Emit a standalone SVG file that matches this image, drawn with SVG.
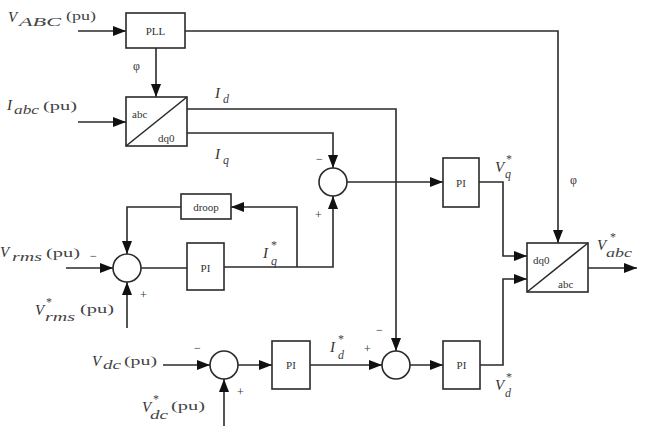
<svg xmlns="http://www.w3.org/2000/svg" width="646" height="426" viewBox="0 0 646 426">
<style>
.b{fill:#fff;stroke:#2a2a2a;stroke-width:1.6}
.c{fill:none;stroke:#2a2a2a;stroke-width:1.6}
.t{font-family:"Liberation Serif",serif;font-size:11px;fill:#333}
.m{font-family:"Liberation Serif",serif;font-style:italic;font-size:15px;fill:#333}
.s{font-family:"Liberation Serif",serif;font-style:italic;font-size:12px;fill:#444}
.u{font-family:"Liberation Serif",serif;font-size:12px;fill:#444}
.p{font-family:"Liberation Serif",serif;font-size:12px;fill:#333}
</style>
<defs>
<marker id="a" markerUnits="userSpaceOnUse" markerWidth="14" markerHeight="10" refX="13" refY="5" orient="auto">
<path d="M0,0 L13,5 L0,10 Z" fill="#111"/>
</marker>
</defs>
<rect width="646" height="426" fill="#fff"/>
<g id="connectors" class="c" marker-end="url(#a)">
<path d="M78,31H126"/>
<path d="M185,31H558V243"/>
<path d="M156,48V97"/>
<path d="M78,122H126"/>
<path d="M187,109H396V351"/>
<path d="M187,133H333V168"/>
<path d="M347,182H443"/>
<path d="M479,182H503V256H527"/>
<path d="M480,365H503V279H527"/>
<path d="M588,268H637"/>
<path d="M66,268H113"/>
<path d="M127,328V282"/>
<path d="M181,207H127V254"/>
<path d="M141,268H187" marker-end="none"/>
<path d="M224,267H333V196"/>
<path d="M297,267V207H231"/>
<path d="M163,365H210"/>
<path d="M224,426V379"/>
<path d="M238,365H272"/>
<path d="M310,365H382"/>
<path d="M410,365H443"/>
</g>
<g id="pll"><rect class="b" x="126" y="13" width="59" height="35"/><text class="t" x="155.5" y="35" text-anchor="middle">PLL</text></g>
<g id="abc2dq0"><rect class="b" x="126" y="97" width="61" height="49"/><path class="c" d="M126,146L187,97"/><text class="t" x="132" y="118">abc</text><text class="t" x="158" y="142">dq0</text></g>
<g id="sum1"><circle class="b" cx="333" cy="182" r="14"/></g>
<g id="piq"><rect class="b" x="443" y="158" width="36" height="49"/><text class="t" x="461" y="187" text-anchor="middle">PI</text></g>
<g id="dq02abc"><rect class="b" x="527" y="243" width="61" height="49"/><path class="c" d="M527,292L588,243"/><text class="t" x="533" y="264">dq0</text><text class="t" x="558" y="288">abc</text></g>
<g id="droop"><rect class="b" x="181" y="194" width="50" height="25"/><text class="t" x="206" y="211" text-anchor="middle">droop</text></g>
<g id="sum2"><circle class="b" cx="127" cy="268" r="14"/></g>
<g id="pirms"><rect class="b" x="187" y="243" width="37" height="47"/><text class="t" x="205.5" y="272" text-anchor="middle">PI</text></g>
<g id="sum3"><circle class="b" cx="224" cy="365" r="14"/></g>
<g id="pidc"><rect class="b" x="272" y="341" width="38" height="48"/><text class="t" x="291" y="369" text-anchor="middle">PI</text></g>
<g id="sum4"><circle class="b" cx="396" cy="365" r="14"/></g>
<g id="pid"><rect class="b" x="443" y="341" width="37" height="48"/><text class="t" x="461.5" y="369" text-anchor="middle">PI</text></g>
<g id="labels">
<text class="m" x="8" y="22">V</text><text class="s" x="19" y="26" textLength="42" lengthAdjust="spacingAndGlyphs" font-size="13">ABC</text><text class="u" x="66" y="20" textLength="30" lengthAdjust="spacingAndGlyphs">(pu)</text>
<text class="m" x="7" y="110">I</text><text class="s" x="14" y="114" textLength="25" lengthAdjust="spacingAndGlyphs">abc</text><text class="u" x="43" y="110" textLength="34" lengthAdjust="spacingAndGlyphs">(pu)</text>
<text class="p" x="133" y="70">φ</text>
<text class="m" x="215" y="98">I</text><text class="s" x="223" y="103">d</text>
<text class="m" x="215" y="159">I</text><text class="s" x="223" y="164">q</text>
<text class="p" x="316" y="163">−</text>
<text class="p" x="315" y="219">+</text>
<text class="m" x="263" y="258">I</text><text class="u" x="271" y="249">*</text><text class="s" x="271" y="265">q</text>
<text class="m" x="0" y="257">V</text><text class="s" x="12" y="261" textLength="30" lengthAdjust="spacingAndGlyphs">rms</text><text class="u" x="46" y="257" textLength="34" lengthAdjust="spacingAndGlyphs">(pu)</text>
<text class="p" x="90" y="260">−</text>
<text class="p" x="140" y="299">+</text>
<text class="m" x="35" y="315">V</text><text class="u" x="46" y="306">*</text><text class="s" x="45" y="321" textLength="30" lengthAdjust="spacingAndGlyphs">rms</text><text class="u" x="80" y="313" textLength="34" lengthAdjust="spacingAndGlyphs">(pu)</text>
<text class="m" x="92" y="366">V</text><text class="s" x="103" y="369" textLength="18" lengthAdjust="spacingAndGlyphs">dc</text><text class="u" x="124" y="365" textLength="33" lengthAdjust="spacingAndGlyphs">(pu)</text>
<text class="p" x="194" y="352">−</text>
<text class="p" x="237" y="396">+</text>
<text class="m" x="142" y="412">V</text><text class="u" x="153" y="403">*</text><text class="s" x="150" y="419" textLength="18" lengthAdjust="spacingAndGlyphs">dc</text><text class="u" x="171" y="410" textLength="34" lengthAdjust="spacingAndGlyphs">(pu)</text>
<text class="m" x="330" y="352">I</text><text class="u" x="338" y="343">*</text><text class="s" x="338" y="359">d</text>
<text class="p" x="364" y="353">+</text>
<text class="p" x="376" y="334">−</text>
<text class="m" x="495" y="390">V</text><text class="u" x="506" y="381">*</text><text class="s" x="505" y="397">d</text>
<text class="m" x="495" y="172">V</text><text class="u" x="506" y="163">*</text><text class="s" x="505" y="178">q</text>
<text class="p" x="570" y="184">φ</text>
<text class="m" x="597" y="250">V</text><text class="u" x="610" y="241">*</text><text class="s" x="606" y="257" textLength="26" lengthAdjust="spacingAndGlyphs">abc</text>
</g>
</svg>
